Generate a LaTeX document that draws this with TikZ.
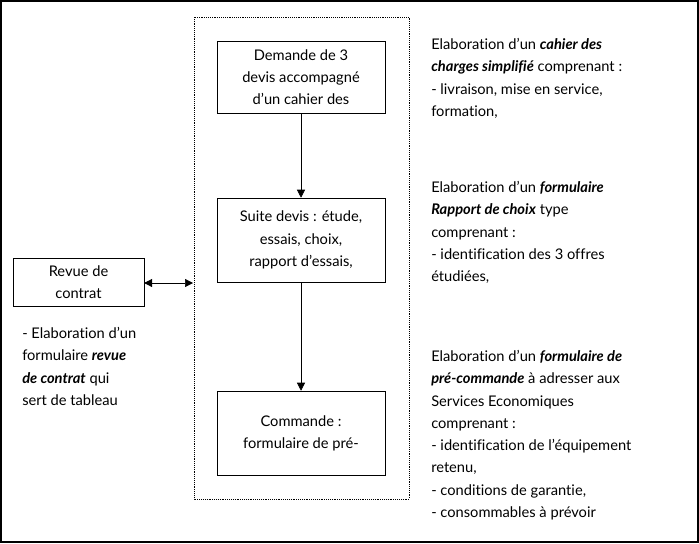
\documentclass[tikz,border=0pt]{standalone}
\usepackage{fontspec}
\setmainfont{Lato}[Ligatures=NoCommon]
\usetikzlibrary{arrows.meta}
\newcommand{\emphbf}[1]{\textbf{\textit{#1}}}
\tikzset{
  procbox/.style={draw, align=center, minimum width=126pt, inner sep=0pt},
  note/.style={anchor=north west, align=left, inner sep=0pt},
  flow/.style={-{Triangle[length=6pt,width=6pt]}},
}
\begin{document}
\begin{tikzpicture}[x=0.75pt, y=-0.75pt, font=\fontsize{11}{16.7}\selectfont]
		\useasboundingbox (0,0) rectangle (699,543);
		\draw[line width=1.5pt] (1,1) rectangle (698,542);
		\draw[densely dotted] (194,17) rectangle (409,499);
		
		\node[procbox, minimum height=54pt] (demande) at (301,77) {Demande de 3\\devis accompagné\\d'un cahier des};
		\node[procbox, minimum height=63pt] (suite) at (301,240) {Suite devis : étude,\\essais, choix,\\rapport d'essais,};
		\node[procbox, minimum height=63pt] (commande) at (301,433) {Commande :\\formulaire de pré-};
		\node[procbox, minimum width=98pt, minimum height=36pt] (revue) at (78.5,282) {Revue de\\contrat};
		\coordinate (cadre) at (193,283);
		
		\draw[flow] (demande) -- (suite);
		\draw[flow] (suite) -- (commande);
		\draw[{Triangle[length=6pt,width=6pt]}-{Triangle[length=6pt,width=6pt]}] (revue.east |- cadre) -- (cadre);
		
		\node[note] (cahier) at (431,38) {Elaboration d'un \emphbf{cahier des}\\\emphbf{charges simplifié} comprenant :\\- livraison, mise en service,\\formation,};
		\node[note] (rapport) at (431,181) {Elaboration d'un \emphbf{formulaire}\\\emphbf{Rapport de choix} type\\comprenant :\\- identification des 3 offres\\étudiées,};
		\node[note] (precommande) at (431,350) {Elaboration d'un \emphbf{formulaire de}\\\emphbf{pré-commande} à adresser aux\\Services Economiques\\comprenant :\\- identification de l'équipement\\retenu,\\- conditions de garantie,\\- consommables à prévoir};
		\node[note] (revuenote) at (22,327) {- Elaboration d'un\\formulaire \emphbf{revue}\\\emphbf{de contrat} qui\\sert de tableau};
	\end{tikzpicture}
\end{document}
